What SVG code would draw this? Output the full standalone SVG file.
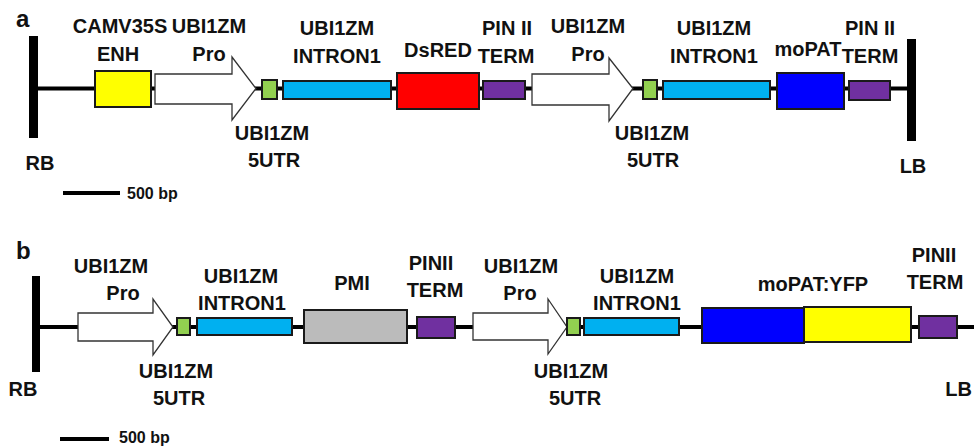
<svg xmlns="http://www.w3.org/2000/svg" width="974" height="448" viewBox="0 0 974 448">
<style>
text{font-family:"Liberation Sans",Arial,sans-serif;font-weight:bold;font-size:20px;fill:#111;text-anchor:middle}
.pl{font-size:24px;text-anchor:start}
.sc{font-size:16px;text-anchor:start}
.bb{stroke:#000;stroke-width:4;fill:none}
.bar{fill:#000}
.box{stroke:#1a1a1a;stroke-width:2}
.arr{fill:#fff;stroke:#333;stroke-width:1.3}
</style>
<rect width="974" height="448" fill="#fff"/>
<g id="connectors">
<line class="bb" x1="36" y1="88.5" x2="910" y2="88.5"/>
<line class="bb" x1="38" y1="327" x2="974" y2="327"/>
<line x1="63" y1="193" x2="120" y2="193" stroke="#000" stroke-width="4"/>
<line x1="60" y1="439" x2="109" y2="439" stroke="#000" stroke-width="4"/>
</g>
<g id="panel-a">
<text class="pl" x="16" y="27">a</text>
<g id="a-RB"><rect class="bar" x="29" y="36" width="9" height="102"/><text x="40" y="170">RB</text></g>
<g id="a-enh"><rect class="box" x="95" y="71" width="56" height="36" fill="#FFFF00"/><text x="120" y="33">CAMV35S</text><text x="118" y="61">ENH</text></g>
<g id="a-pro1"><polygon class="arr" points="155,74 232,74 232,57 256,88.5 232,120 232,104 155,104"/><text x="209" y="33">UBI1ZM</text><text x="209" y="61">Pro</text></g>
<g id="a-utr1"><rect class="box" x="262" y="80" width="15" height="19" fill="#92D050"/><text x="272" y="140">UBI1ZM</text><text x="274" y="167">5UTR</text></g>
<g id="a-int1"><rect class="box" x="283" y="81" width="108" height="18" fill="#00B0F0"/><text x="337" y="35">UBI1ZM</text><text x="337" y="63">INTRON1</text></g>
<g id="a-dsred"><rect class="box" x="397" y="73" width="82" height="36" fill="#FF0000"/><text x="438" y="57">DsRED</text></g>
<g id="a-term1"><rect class="box" x="483" y="81" width="42" height="18" fill="#7030A0"/><text x="507" y="35">PIN II</text><text x="506" y="63">TERM</text></g>
<g id="a-pro2"><polygon class="arr" points="532,74 609,74 609,58 633,88.5 609,121 609,105 532,105"/><text x="588" y="33">UBI1ZM</text><text x="588" y="61">Pro</text></g>
<g id="a-utr2"><rect class="box" x="643" y="80" width="14" height="19" fill="#92D050"/><text x="652" y="140">UBI1ZM</text><text x="653" y="167">5UTR</text></g>
<g id="a-int2"><rect class="box" x="663" y="81" width="107" height="18" fill="#00B0F0"/><text x="714" y="35">UBI1ZM</text><text x="714" y="63">INTRON1</text></g>
<g id="a-mopat"><rect class="box" x="777" y="73" width="67" height="36" fill="#0000FF"/><text x="808" y="56">moPAT</text></g>
<g id="a-term2"><rect class="box" x="849" y="81" width="41" height="19" fill="#7030A0"/><text x="870" y="35">PIN II</text><text x="870" y="63">TERM</text></g>
<g id="a-LB"><rect class="bar" x="907" y="39" width="9" height="102"/><text x="913" y="173">LB</text></g>
<text class="sc" x="127" y="199">500 bp</text>
</g>
<g id="panel-b">
<text class="pl" x="16" y="259">b</text>
<g id="b-RB"><rect class="bar" x="32" y="276" width="8" height="96"/><text x="23" y="396">RB</text></g>
<g id="b-pro1"><polygon class="arr" points="78,313 153,313 153,299 173,327 153,355 153,341 78,341"/><text x="111" y="273">UBI1ZM</text><text x="123" y="300">Pro</text></g>
<g id="b-utr1"><rect class="box" x="177" y="318" width="13" height="17" fill="#92D050"/><text x="176" y="378">UBI1ZM</text><text x="179" y="405">5UTR</text></g>
<g id="b-int1"><rect class="box" x="197" y="318" width="95" height="17" fill="#00B0F0"/><text x="241" y="283">UBI1ZM</text><text x="242" y="310">INTRON1</text></g>
<g id="b-pmi"><rect class="box" x="304" y="310" width="103" height="33" fill="#BBBBBB"/><text x="352" y="290">PMI</text></g>
<g id="b-term1"><rect class="box" x="417" y="317" width="38" height="21" fill="#7030A0"/><text x="431" y="270">PINII</text><text x="435" y="297">TERM</text></g>
<g id="b-pro2"><polygon class="arr" points="473,313 548,313 548,299 567,327 548,354 548,340 473,340"/><text x="521" y="273">UBI1ZM</text><text x="520" y="300">Pro</text></g>
<g id="b-utr2"><rect class="box" x="567" y="318" width="13" height="17" fill="#92D050"/><text x="571" y="378">UBI1ZM</text><text x="575" y="405">5UTR</text></g>
<g id="b-int2"><rect class="box" x="584" y="318" width="95" height="17" fill="#00B0F0"/><text x="637" y="283">UBI1ZM</text><text x="637" y="310">INTRON1</text></g>
<g id="b-mopatyfp"><rect class="box" x="702" y="308" width="102" height="35" fill="#0000FF"/><rect class="box" x="804" y="307" width="107" height="35" fill="#FFFF00"/><text x="813" y="291">moPAT:YFP</text></g>
<g id="b-term2"><rect class="box" x="919" y="316" width="38" height="22" fill="#7030A0"/><text x="934" y="262">PINII</text><text x="935" y="289">TERM</text></g>
<text x="972" y="396" style="text-anchor:end">LB</text>
<text class="sc" x="119" y="443">500 bp</text>
</g>
</svg>
